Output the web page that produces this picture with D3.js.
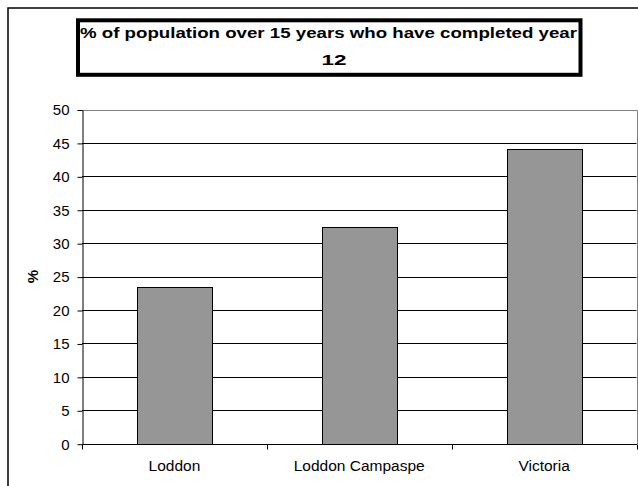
<!DOCTYPE html>
<html>
<head>
<meta charset="utf-8">
<script src="https://cdn.jsdelivr.net/npm/d3@7"></script>
<style>
  html, body { margin: 0; padding: 0; background: #fff; }
  svg { display: block; font-family: "Liberation Sans", Arial, sans-serif; }
</style>
</head>
<body>
<svg id="chart" width="638" height="486"></svg>
<script>
const categories = ["Loddon", "Loddon Campaspe", "Victoria"];
const values = [23.4, 32.4, 44.1];
const yTicks = [0, 5, 10, 15, 20, 25, 30, 35, 40, 45, 50];
const titleLines = ["% of population over 15 years who have completed year", "12"];
const yLabel = "%";

const svg = d3.select("#chart");
const plot = { left: 82, right: 636.5, top: 109.5, bottom: 443.7 };

// outer chart border (extends beyond the visible window)
svg.append("rect")
  .attr("x", 8).attr("y", 8).attr("width", 660).attr("height", 500)
  .attr("fill", "#fff").attr("stroke", "#000").attr("stroke-width", 1.5);

const x = d3.scaleBand().domain(categories)
  .range([plot.left, plot.right]).paddingInner(0.594).paddingOuter(0.297);
const xCat = d3.scaleBand().domain(categories).range([plot.left, plot.right]).padding(0);
const y = d3.scaleLinear().domain([0, 50]).range([plot.bottom, plot.top]);

// gridlines
svg.append("g").selectAll("line").data(yTicks.filter(t => t > 0 && t < 50)).join("line")
  .attr("x1", plot.left).attr("x2", plot.right)
  .attr("y1", d => Math.round(y(d)) + 0.5).attr("y2", d => Math.round(y(d)) + 0.5)
  .attr("stroke", "#000").attr("stroke-width", 1);

// plot area border top/right (gray)
svg.append("path")
  .attr("d", `M${plot.left},${Math.round(y(50)) + 0.5}H${Math.round(plot.right) + 0.5}V${Math.round(plot.bottom)}`)
  .attr("fill", "none").attr("stroke", "#808080").attr("stroke-width", 1);

// bars
svg.append("g").selectAll("rect").data(values).join("rect")
  .attr("x", (d, i) => Math.round(x(categories[i])) + 0.5)
  .attr("y", d => Math.round(y(d)) + 0.5)
  .attr("width", Math.round(x.bandwidth()))
  .attr("height", d => Math.round(y(0)) - Math.round(y(d)))
  .attr("fill", "#969696").attr("stroke", "#000").attr("stroke-width", 1);

// y axis
const yAxis = d3.axisLeft(y).tickValues(yTicks).tickSize(5).tickPadding(8).tickSizeOuter(0);
const gy = svg.append("g").attr("transform", `translate(${plot.left + 0.5},0.5)`).call(yAxis);
gy.select(".domain").attr("stroke", "#000");
gy.selectAll(".tick line").attr("stroke", "#000");
gy.selectAll(".tick text").attr("font-size", 15).attr("fill", "#000")
  .attr("font-family", "Liberation Sans, Arial, sans-serif");

// x axis
const gx = svg.append("g").attr("transform", `translate(0,${Math.round(plot.bottom) + 0.5})`);
gx.append("line").attr("x1", plot.left).attr("x2", plot.right + 0.5).attr("stroke", "#000");
const bounds = categories.map(c => xCat(c)).concat([plot.right]);
gx.selectAll("line.t").data(bounds).join("line").attr("class", "t")
  .attr("x1", d => Math.round(d) + 0.5).attr("x2", d => Math.round(d) + 0.5)
  .attr("y1", 0).attr("y2", 5).attr("stroke", "#000");
gx.selectAll("text").data(categories).join("text")
  .attr("x", d => xCat(d) + xCat.bandwidth() / 2)
  .attr("y", 26.5)
  .attr("text-anchor", "middle").attr("font-size", 15.5).attr("fill", "#000")
  .text(d => d);

// y label
svg.append("text")
  .attr("transform", `translate(38,${(plot.top + plot.bottom) / 2}) rotate(-90)`)
  .attr("text-anchor", "middle").attr("font-size", 15).attr("font-weight", "bold")
  .text(yLabel);

// title box
svg.append("rect")
  .attr("x", 78).attr("y", 20.3).attr("width", 502.5).attr("height", 54.5)
  .attr("fill", "#fff").attr("stroke", "#000").attr("stroke-width", 4);
const titleWidths = [497, 25];
svg.append("g").selectAll("text").data(titleLines).join("text")
  .attr("x", (d, i) => [328.5, 334][i]).attr("y", (d, i) => 38 + i * 27)
  .attr("text-anchor", "middle").attr("font-size", 15.5).attr("font-weight", "bold")
  .attr("textLength", (d, i) => titleWidths[i]).attr("lengthAdjust", "spacingAndGlyphs")
  .text(d => d);
</script>
</body>
</html>
